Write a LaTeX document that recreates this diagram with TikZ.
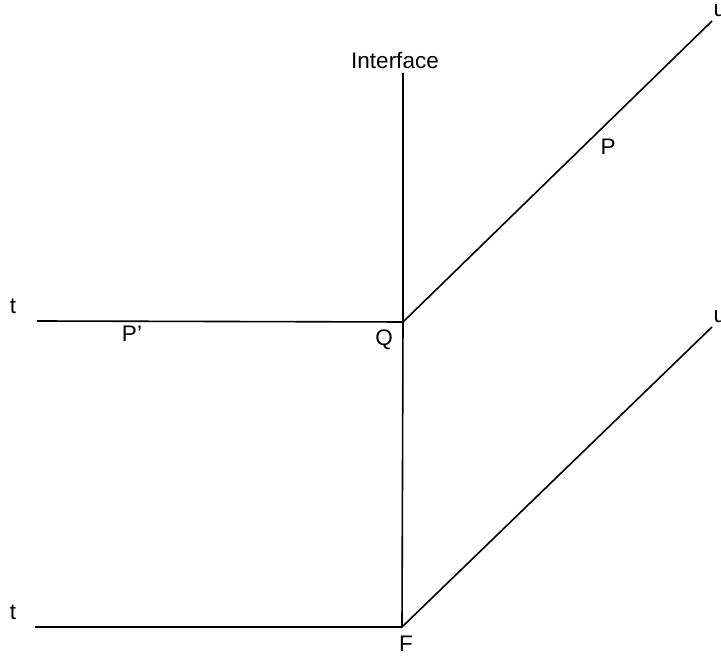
\documentclass[tikz,border=0pt]{standalone}
\usepackage{fontspec}
\setmainfont{Liberation Sans}
\begin{document}
\begin{tikzpicture}[x=1pt,y=1pt,
  lbl/.style={inner sep=0pt,font=\fontsize{22.5}{24}\selectfont},
  ln/.style={line width=1.6pt}]
\useasboundingbox (0,0) rectangle (721,656);
\coordinate (top) at (403,583);
\coordinate (Q) at (403,334);
\coordinate (F) at (402,29);
\coordinate (L1) at (37,335);
\coordinate (L2) at (35,29);
\coordinate (U1) at (712,635);
\coordinate (U2) at (712,329);
\draw[ln] (top) -- (Q) -- (F);
\draw[ln] (L1) -- (Q) -- (U1);
\draw[ln] (L2) -- (F) -- (U2);
\node[lbl] (t1) at (13,350) {t};
\node[lbl] (t2) at (13,44) {t};
\node[lbl] (u1) at (720,645) {u};
\node[lbl] (u2) at (720,339) {u};
\node[lbl] (P) at (608,509) {P};
\node[lbl] (Pp) at (132,322) {P'};
\node[lbl] (Qn) at (384,316) {Q};
\node[lbl] (Fn) at (406,12) {F};
\node[lbl] (If) at (395,596) {Interface};
\end{tikzpicture}
\end{document}
